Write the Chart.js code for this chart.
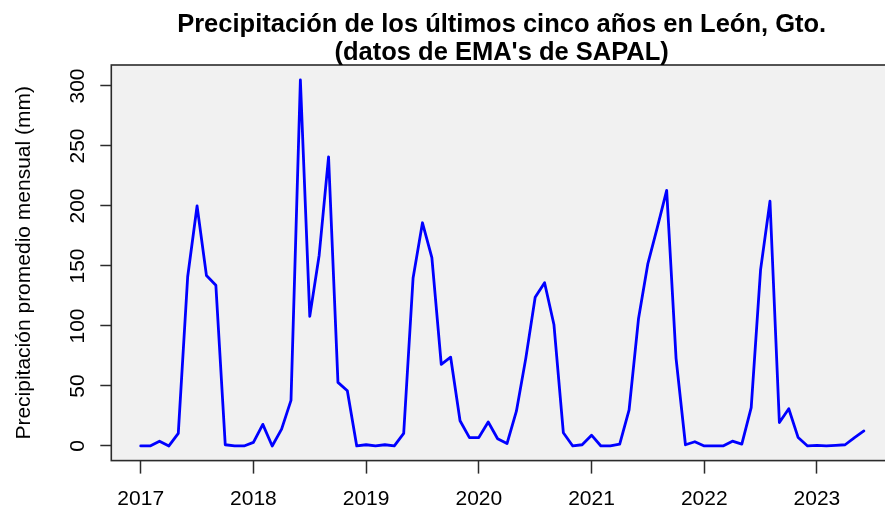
<!DOCTYPE html>
<html lang="es">
<head>
<meta charset="utf-8">
<title>Precipitación León, Gto.</title>
<script src="https://cdn.jsdelivr.net/npm/chart.js@4.4.1/dist/chart.umd.min.js"></script>
<style>
  html, body { margin: 0; padding: 0; background: #fff; overflow: hidden; }
  canvas { display: block; }
</style>
</head>
<body>
<canvas id="lluvia" width="895" height="512"></canvas>
<script>
// Precipitación mensual promedio (mm), ene 2017 -> jun 2023
const startYear = 2017;
const precip = [
  0, 0, 4, 0, 10.5, 141, 200, 142, 134, 1, 0, 0,        // 2017
  3, 18, 0, 14, 38, 305, 108, 159, 241, 53, 46, 0,      // 2018
  1, 0, 1, 0, 10.5, 140, 186, 157, 68, 74, 21, 7,       // 2019
  7, 20, 6, 2, 29, 73, 124, 136, 101, 11, 0, 1,         // 2020
  9, 0, 0, 1.5, 30, 106, 152, 182, 213, 73, 1, 3.5,     // 2021
  0, 0, 0, 4, 1.5, 32, 147, 204, 19.5, 31, 7, 0,        // 2022
  0.5, 0, 0.5, 1, 7, 12.5                               // 2023
];
const yearTicks = [2017, 2018, 2019, 2020, 2021, 2022, 2023];
const yTicks = [0, 50, 100, 150, 200, 250, 300];
const titleLines = [
  'Precipitación de los últimos cinco años en León, Gto.',
  "(datos de EMA's de SAPAL)"
];
const yTitle = 'Precipitación promedio mensual (mm)';

const FONT = "'Liberation Sans', Arial, Helvetica, sans-serif";
const INK = '#2b2b2b';

// month index -> decimal year (like an R ts object)
const points = precip.map((v, i) => ({ x: startYear + i / 12, y: v }));

// R base-graphics look: grey plot region, box, rotated y labels, 2-line title
const rPlot = {
  id: 'rPlot',
  beforeDraw(chart) {
    const { ctx, chartArea: a } = chart;
    ctx.save();
    ctx.fillStyle = '#ffffff';
    ctx.fillRect(0, 0, chart.width, chart.height);
    ctx.fillStyle = '#f1f1f1';
    ctx.fillRect(a.left, a.top, a.right - a.left, a.bottom - a.top);
    ctx.restore();
  },
  afterDraw(chart) {
    const { ctx, chartArea: a } = chart;
    const y = chart.scales.y;
    ctx.save();

    ctx.strokeStyle = INK;
    ctx.lineWidth = 1.6;
    ctx.strokeRect(a.left, a.top, a.right - a.left, a.bottom - a.top);

    // y tick labels, reading bottom to top
    ctx.fillStyle = '#000';
    ctx.font = '21px ' + FONT;
    ctx.textAlign = 'center';
    ctx.textBaseline = 'alphabetic';
    y.ticks.forEach(t => {
      ctx.save();
      ctx.translate(84, y.getPixelForValue(t.value));
      ctx.rotate(-Math.PI / 2);
      ctx.fillText(String(t.value), 0, 0);
      ctx.restore();
    });

    // title
    ctx.font = 'bold 25.5px ' + FONT;
    const cx = (a.left + a.right) / 2;
    ctx.fillText(titleLines[0], cx, 32);
    ctx.fillText(titleLines[1], cx, 60);
    ctx.restore();
  }
};

new Chart(document.getElementById('lluvia'), {
  type: 'line',
  data: {
    datasets: [{
      data: points,
      borderColor: '#0000ff',
      borderWidth: 2.8,
      borderJoinStyle: 'round',
      borderCapStyle: 'round',
      pointRadius: 0,
      tension: 0,
      fill: false
    }]
  },
  options: {
    responsive: false,
    animation: false,
    devicePixelRatio: 1,
    layout: { padding: { left: 0, top: 65, right: 3, bottom: 0 } },
    plugins: {
      legend: { display: false },
      tooltip: { enabled: false }
    },
    scales: {
      x: {
        type: 'linear',
        min: 2016.739,
        max: 2023.666,
        afterBuildTicks: s => { s.ticks = yearTicks.map(v => ({ value: v })); },
        afterFit: s => { s.height = 51.4; },
        border: { display: false },
        grid: { drawOnChartArea: false, drawTicks: true, tickLength: 13, tickColor: INK, tickWidth: 1.5 },
        ticks: {
          color: '#000',
          font: { family: FONT, size: 21 },
          padding: 13,
          maxRotation: 0,
          autoSkip: false,
          callback: v => String(v)
        }
      },
      y: {
        type: 'linear',
        min: -12.2,
        max: 317.5,
        afterBuildTicks: s => { s.ticks = yTicks.map(v => ({ value: v })); },
        afterFit: s => { s.width = 111.3; },
        border: { display: false },
        grid: { drawOnChartArea: false, drawTicks: true, tickLength: 11, tickColor: INK, tickWidth: 1.5 },
        ticks: { display: false },
        title: {
          display: true,
          text: yTitle,
          color: '#000',
          font: { family: FONT, size: 21 },
          padding: { top: 12, bottom: 0 }
        }
      }
    }
  },
  plugins: [rPlot]
});
</script>
</body>
</html>
